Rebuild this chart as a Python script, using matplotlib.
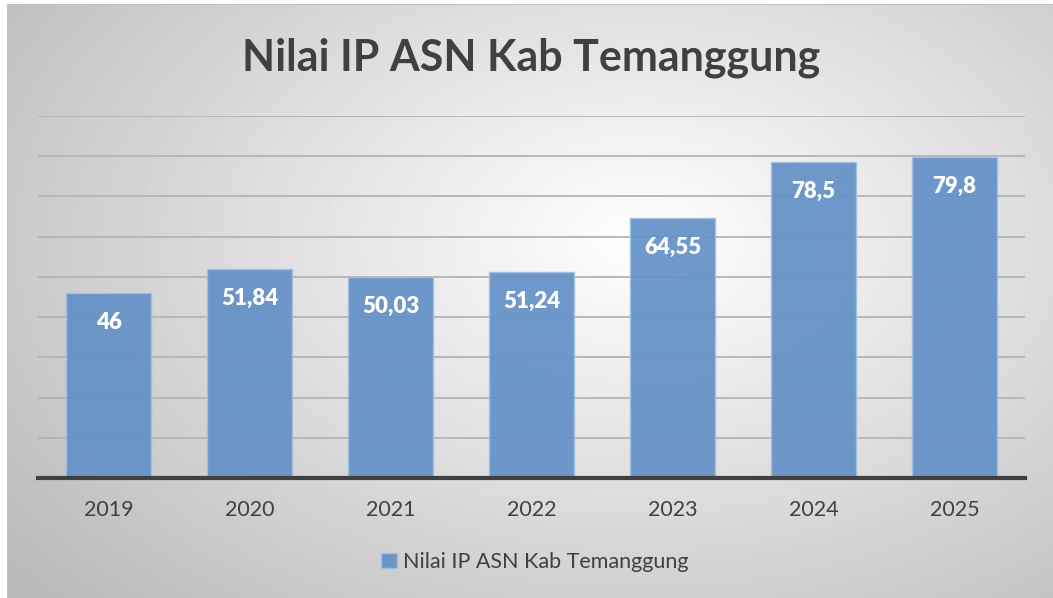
import matplotlib.pyplot as plt
import numpy as np

# data
years = ["2019", "2020", "2021", "2022", "2023", "2024", "2025"]
nilai = [46, 51.84, 50.03, 51.24, 64.55, 78.5, 79.8]
label_teks = ["46", "51,84", "50,03", "51,24", "64,55", "78,5", "79,8"]
nama_seri = "Nilai IP ASN Kab Temanggung"

plt.rcParams['font.family'] = ['Lato', 'DejaVu Sans']

W, H = 1053, 598
fig = plt.figure(figsize=(W / 100, H / 100), dpi=100)

# background: white page + gray radial gradient box
bg = fig.add_axes([0, 0, 1, 1])
yy, xx = np.mgrid[0:H, 0:W]
d = np.sqrt(((xx - 640) / 620) ** 2 + ((yy - 240) / 400) ** 2)
val = 1.0 - 0.24 * np.clip(d, 0, 1.3) / 1.15
img = np.ones((H, W))
mask = (xx >= 7) & (yy >= 4)
img[mask] = val[mask]
img[(xx == 7) & (yy >= 4)] = 0.75
img[(yy == 4) & (xx >= 7)] = 0.75
bg.imshow(img, cmap='gray', vmin=0, vmax=1, aspect='auto', interpolation='bilinear')
bg.set_axis_off()

ax = fig.add_axes([38 / W, 1 - 478 / H, (1025 - 38) / W, (478 - 116) / H])
ax.patch.set_alpha(0)

x = np.arange(len(years))
bars = ax.bar(x, nilai, width=0.6, color='#6591c7', alpha=0.93,
              edgecolor='#a3bfe3', linewidth=1, label=nama_seri, zorder=3)

for i in range(len(x)):
    ax.annotate(label_teks[i], (x[i], nilai[i]), xytext=(0, -21), textcoords='offset points',
                ha='center', va='center', color='white', fontsize=16, fontweight='heavy', zorder=5)

ax.set_xlim(-0.5, len(years) - 0.5)
ax.set_ylim(0, 90)
ax.set_yticks(np.arange(0, 91, 10))
ax.yaxis.grid(True, color='#b4b4b4', linewidth=1.3, zorder=1)
ax.set_axisbelow(True)
ax.tick_params(axis='y', left=False, labelleft=False)
ax.tick_params(axis='x', bottom=False, labelsize=15.5, labelcolor='#404040', pad=12)
ax.set_xticks(x)
ax.set_xticklabels(years)
for s in ['top', 'right', 'left']:
    ax.spines[s].set_visible(False)
ax.spines['bottom'].set_color('#404040')
ax.spines['bottom'].set_linewidth(3)
ax.spines['bottom'].set_zorder(4)

fig.text(531 / W, 1 - 58 / H, "Nilai IP ASN Kab Temanggung", ha='center', va='center',
         fontsize=31, fontweight='bold', color='#404040')

fig.legend(handles=[bars], labels=[nama_seri], loc='center', bbox_to_anchor=(535 / W, 1 - 562 / H),
           frameon=False, fontsize=15.5, handlelength=0.7, handleheight=0.7, handletextpad=0.3,
           labelcolor='#404040')

fig.savefig("out.png", dpi=100)
